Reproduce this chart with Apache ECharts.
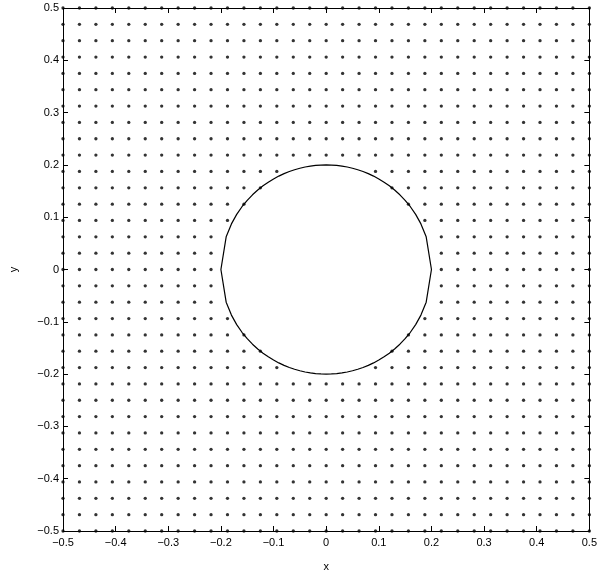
<!DOCTYPE html>
<html>
<head>
<meta charset="utf-8">
<script src="https://cdn.jsdelivr.net/npm/echarts@6/dist/echarts.min.js"></script>
<style>
  html, body { margin: 0; padding: 0; background: #fff; }
  #chart { width: 600px; height: 577px; }
</style>
</head>
<body>
<div id="chart"></div>
<script>
// Mesh node coordinates along each direction (uniform spacing of 1/32)
const gridX = [-0.5, -0.46875, -0.4375, -0.40625, -0.375, -0.34375, -0.3125, -0.28125,
  -0.25, -0.21875, -0.1875, -0.15625, -0.125, -0.09375, -0.0625, -0.03125, 0,
  0.03125, 0.0625, 0.09375, 0.125, 0.15625, 0.1875, 0.21875, 0.25, 0.28125,
  0.3125, 0.34375, 0.375, 0.40625, 0.4375, 0.46875, 0.5];
const gridY = gridX.slice();

// Radius of the circular hole; nodes inside it are not part of the mesh
const holeRadius = 0.2;

// Upper half of the hole boundary, sampled at x steps of 0.01
const arcX = [-0.2, -0.19, -0.18, -0.17, -0.16, -0.15, -0.14, -0.13, -0.12, -0.11, -0.1,
  -0.09, -0.08, -0.07, -0.06, -0.05, -0.04, -0.03, -0.02, -0.01, 0,
  0.01, 0.02, 0.03, 0.04, 0.05, 0.06, 0.07, 0.08, 0.09, 0.1,
  0.11, 0.12, 0.13, 0.14, 0.15, 0.16, 0.17, 0.18, 0.19, 0.2];
const arcY = [0, 0.06245, 0.08718, 0.10536, 0.12, 0.13229, 0.14283, 0.15199, 0.16, 0.16703, 0.17321,
  0.17861, 0.1833, 0.18735, 0.19079, 0.19365, 0.19596, 0.19774, 0.199, 0.19975, 0.2,
  0.19975, 0.199, 0.19774, 0.19596, 0.19365, 0.19079, 0.18735, 0.1833, 0.17861, 0.17321,
  0.16703, 0.16, 0.15199, 0.14283, 0.13229, 0.12, 0.10536, 0.08718, 0.06245, 0];

// Axis tick labels
const tickValues = [-0.5, -0.4, -0.3, -0.2, -0.1, 0, 0.1, 0.2, 0.3, 0.4, 0.5];

const nodes = [];
for (const y of gridY) {
  for (const x of gridX) {
    if (x * x + y * y >= holeRadius * holeRadius) nodes.push([x, y]);
  }
}
// Upper arc left to right, then the mirrored lower arc back from right to left
const upper = arcX.map((x, i) => [x, arcY[i]]);
const lower = arcX.map((x, i) => [x, -arcY[i]]).reverse();
const outline = upper.concat(lower.slice(1));

const fmt = v => {
  const r = Math.round(v * 10) / 10;
  const t = tickValues.find(s => Math.abs(s - r) < 1e-9);
  return String(t === undefined ? r : t).replace('-', '\u2212');
};

const font = 'Liberation Sans, Arial, Helvetica, sans-serif';
const axisCommon = {
  type: 'value', min: -0.5, max: 0.5, interval: 0.1,
  axisLine: { show: true, onZero: false, lineStyle: { color: '#000', width: 1 } },
  axisTick: { show: true, inside: true, length: 5, lineStyle: { color: '#000', width: 1 } },
  splitLine: { show: false }
};

const chart = echarts.init(document.getElementById('chart'), null, { renderer: 'canvas' });
chart.setOption({
  animation: false,
  backgroundColor: '#fff',
  grid: { left: 63, right: 10, top: 8, bottom: 42, containLabel: false },
  xAxis: [
    Object.assign({}, axisCommon, {
      position: 'bottom', name: 'x', nameLocation: 'middle', nameGap: 30,
      nameTextStyle: { color: '#000', fontSize: 11, fontFamily: font },
      axisLabel: { color: '#000', fontSize: 11, fontFamily: font, margin: 6, formatter: fmt }
    }),
    Object.assign({}, axisCommon, { position: 'top', axisLabel: { show: false } })
  ],
  yAxis: [
    Object.assign({}, axisCommon, {
      position: 'left', name: 'y', nameLocation: 'middle', nameGap: 44, nameRotate: 90,
      nameTextStyle: { color: '#000', fontSize: 11, fontFamily: font },
      axisLabel: { color: '#000', fontSize: 11, fontFamily: font, margin: 4, formatter: fmt }
    }),
    Object.assign({}, axisCommon, { position: 'right', axisLabel: { show: false } })
  ],
  series: [
    {
      type: 'scatter', data: nodes, symbol: 'circle', symbolSize: 3.3,
      itemStyle: { color: '#000' }, clip: false, silent: true
    },
    {
      type: 'line', data: outline, showSymbol: false, smooth: false,
      lineStyle: { color: '#000', width: 1.2 }, clip: false, silent: true
    }
  ]
});
</script>
</body>
</html>
